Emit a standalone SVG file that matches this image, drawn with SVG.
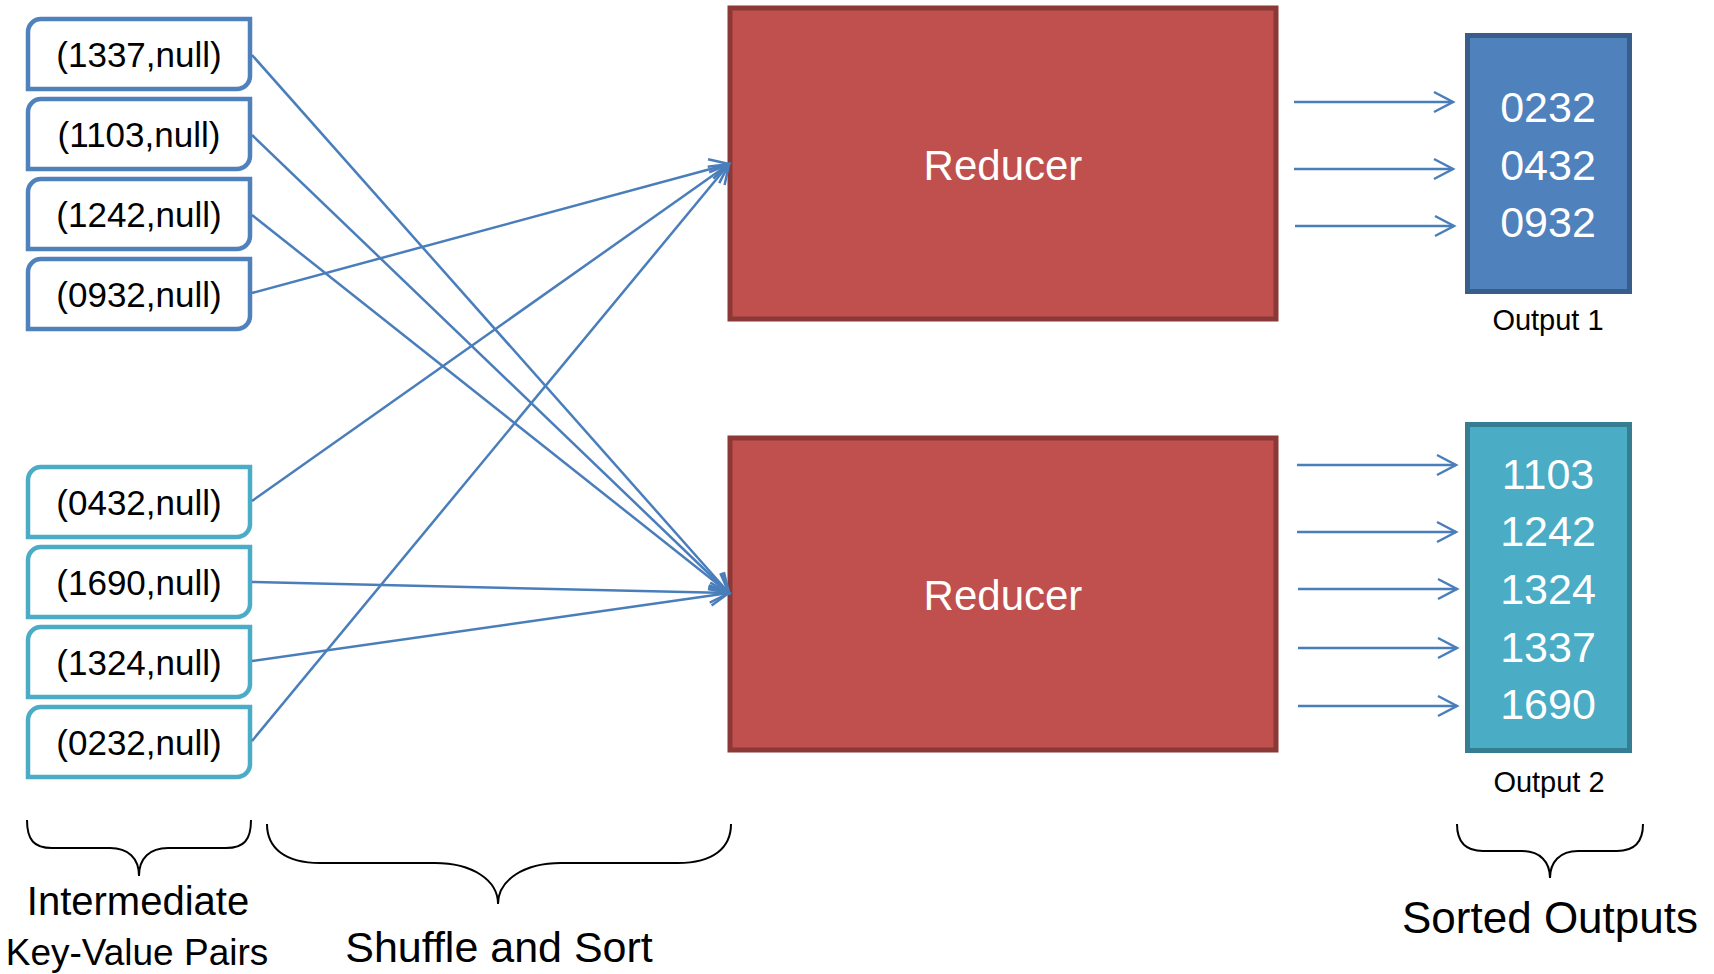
<svg xmlns="http://www.w3.org/2000/svg" width="1714" height="974" viewBox="0 0 1714 974">
<defs>
<style>
text{font-family:"Liberation Sans",Arial,sans-serif;text-anchor:middle}
.kv{font-size:35px;fill:#000}
.b1{fill:#fff;stroke:#4F81BD;stroke-width:4.5}
.b2{fill:#fff;stroke:#4BACC6;stroke-width:4.5}
.red{fill:#C0504D;stroke:#8C3836;stroke-width:5}
.rt{font-size:42px;fill:#fff}
.o1{fill:#4F81BD;stroke:#385D8A;stroke-width:5}
.o2{fill:#4BACC6;stroke:#357D91;stroke-width:5}
.num{font-size:43px;fill:#fff}
.lab{font-size:29px;fill:#000}
.big{fill:#000}
.conn{stroke:#4A7EBB;stroke-width:2.5;fill:none;marker-end:url(#arr)}
.brace{fill:none;stroke:#000;stroke-width:2}
</style>
<marker id="arr" markerUnits="userSpaceOnUse" viewBox="-22 -13 26 26" refX="0" refY="0" markerWidth="26" markerHeight="26" orient="auto" overflow="visible">
<path d="M-19,-10 L0,0 L-19,10" fill="none" stroke="#4A7EBB" stroke-width="2.5" stroke-linejoin="miter"/>
</marker>
</defs>
<rect width="1714" height="974" fill="#fff"/>

<g id="kv1337" transform="translate(28,19)"><path class="b1" d="M13,0 H222 V57 A13,13 0 0 1 209,70 H0 V13 A13,13 0 0 1 13,0 Z"/><text class="kv" x="111" y="48">(1337,null)</text></g>
<g id="kv1103" transform="translate(28,99)"><path class="b1" d="M13,0 H222 V57 A13,13 0 0 1 209,70 H0 V13 A13,13 0 0 1 13,0 Z"/><text class="kv" x="111" y="48">(1103,null)</text></g>
<g id="kv1242" transform="translate(28,179)"><path class="b1" d="M13,0 H222 V57 A13,13 0 0 1 209,70 H0 V13 A13,13 0 0 1 13,0 Z"/><text class="kv" x="111" y="48">(1242,null)</text></g>
<g id="kv0932" transform="translate(28,259)"><path class="b1" d="M13,0 H222 V57 A13,13 0 0 1 209,70 H0 V13 A13,13 0 0 1 13,0 Z"/><text class="kv" x="111" y="48">(0932,null)</text></g>
<g id="kv0432" transform="translate(28,467)"><path class="b2" d="M13,0 H222 V57 A13,13 0 0 1 209,70 H0 V13 A13,13 0 0 1 13,0 Z"/><text class="kv" x="111" y="48">(0432,null)</text></g>
<g id="kv1690" transform="translate(28,547)"><path class="b2" d="M13,0 H222 V57 A13,13 0 0 1 209,70 H0 V13 A13,13 0 0 1 13,0 Z"/><text class="kv" x="111" y="48">(1690,null)</text></g>
<g id="kv1324" transform="translate(28,627)"><path class="b2" d="M13,0 H222 V57 A13,13 0 0 1 209,70 H0 V13 A13,13 0 0 1 13,0 Z"/><text class="kv" x="111" y="48">(1324,null)</text></g>
<g id="kv0232" transform="translate(28,707)"><path class="b2" d="M13,0 H222 V57 A13,13 0 0 1 209,70 H0 V13 A13,13 0 0 1 13,0 Z"/><text class="kv" x="111" y="48">(0232,null)</text></g>

<g id="reducer1"><rect class="red" x="730" y="8" width="546" height="311"/><text class="rt" x="1003" y="180">Reducer</text></g>
<g id="reducer2"><rect class="red" x="730" y="438" width="546" height="312"/><text class="rt" x="1003" y="610">Reducer</text></g>

<g id="output1"><rect class="o1" x="1467.5" y="35.5" width="162" height="256"/>
<text class="num" x="1548" y="122">0232</text><text class="num" x="1548" y="180">0432</text><text class="num" x="1548" y="237">0932</text>
<text class="lab" x="1548" y="330">Output 1</text></g>
<g id="output2"><rect class="o2" x="1467.5" y="424.5" width="162" height="326"/>
<text class="num" x="1548" y="489">1103</text><text class="num" x="1548" y="546">1242</text><text class="num" x="1548" y="604">1324</text><text class="num" x="1548" y="662">1337</text><text class="num" x="1548" y="719">1690</text>
<text class="lab" x="1549" y="792">Output 2</text></g>

<g id="connectors">
<line class="conn" x1="252" y1="55" x2="729" y2="593"/>
<line class="conn" x1="252" y1="135" x2="729" y2="593"/>
<line class="conn" x1="252" y1="215" x2="729" y2="593"/>
<line class="conn" x1="252" y1="293" x2="729" y2="164"/>
<line class="conn" x1="252" y1="501" x2="729" y2="164"/>
<line class="conn" x1="252" y1="582" x2="729" y2="593"/>
<line class="conn" x1="252" y1="661" x2="729" y2="593"/>
<line class="conn" x1="252" y1="741" x2="729" y2="164"/>
<line class="conn" x1="1294" y1="102" x2="1453" y2="102"/>
<line class="conn" x1="1294" y1="169" x2="1453" y2="169"/>
<line class="conn" x1="1295" y1="226" x2="1454" y2="226"/>
<line class="conn" x1="1297" y1="465" x2="1456" y2="465"/>
<line class="conn" x1="1297" y1="532" x2="1456" y2="532"/>
<line class="conn" x1="1298" y1="589" x2="1457" y2="589"/>
<line class="conn" x1="1298" y1="648" x2="1457" y2="648"/>
<line class="conn" x1="1298" y1="706" x2="1457" y2="706"/>
</g>

<g id="brace-intermediate">
<path class="brace" d="M27,820 C27,840 34,848 52,848 H110 C128,848 139,858 139,876 C139,858 150,848 168,848 H226 C244,848 251,840 251,820"/>
<text class="big" x="138" y="915" font-size="40">Intermediate</text>
<text class="big" x="137" y="965" font-size="37">Key-Value Pairs</text>
</g>
<g id="brace-shuffle">
<path class="brace" d="M267,824 C267,848 285,863 320,863 H435 C472,863 498,880 498,904 C498,880 524,863 561,863 H678 C713,863 731,848 731,824"/>
<text class="big" x="499" y="962" font-size="43">Shuffle and Sort</text>
</g>
<g id="brace-sorted">
<path class="brace" d="M1457,824 C1457,842 1465,851 1483,851 H1522 C1540,851 1550,862 1550,878 C1550,862 1560,851 1578,851 H1617 C1635,851 1643,842 1643,824"/>
<text class="big" x="1550" y="933" font-size="44">Sorted Outputs</text>
</g>
</svg>
